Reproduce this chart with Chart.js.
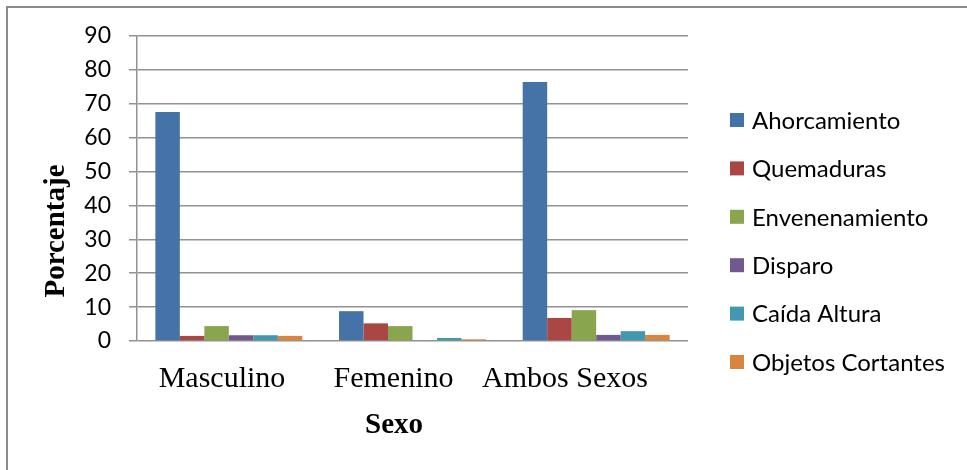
<!DOCTYPE html>
<html>
<head>
<meta charset="utf-8">
<script src="https://cdn.jsdelivr.net/npm/chart.js@4"></script>
<style>
    html, body { margin: 0; padding: 0; background: #fff; }
    #wrap { position: relative; width: 967px; height: 470px; overflow: hidden; }
    #frame { position: absolute; left: 6px; top: 6px; width: 1000px; height: 500px; border: 1px solid #8a8a8a; border-width: 2px 0 0 2px; }
    canvas { position: absolute; left: 0; top: 0; }
</style>
</head>
<body>
<div id="wrap">
    <div id="frame"></div>
    <canvas id="causasChart" width="967" height="470"></canvas>
</div>
<script>
const categorias = ['Masculino', 'Femenino', 'Ambos Sexos'];

const ahorcamiento = [67.6, 8.8, 76.4];
const quemaduras = [1.5, 5.2, 6.8];
const envenenamiento = [4.4, 4.4, 9.1];
const disparo = [1.7, 0, 1.8];
const caidaAltura = [1.7, 0.9, 2.9];
const objetosCortantes = [1.5, 0.5, 1.8];

const yTicks = [0, 10, 20, 30, 40, 50, 60, 70, 80, 90];

const ctx = document.getElementById('causasChart').getContext('2d');

const serif = 'Liberation Serif';
const gridColor = '#929292';

// legend on the right, one entry per dataset
const sideLegend = {
    id: 'sideLegend',
    afterDraw(chart) {
        const c = chart.ctx;
        c.save();
        c.font = '24px Lato';
        c.textBaseline = 'middle';
        chart.data.datasets.forEach((ds, i) => {
            const y = 120 + i * 48.4;
            c.fillStyle = ds.backgroundColor;
            c.fillRect(730, y - 7, 14, 14);
            c.fillStyle = '#000';
            c.fillText(ds.label, 752, y + 1);
        });
        c.restore();
    }
};

// axis titles, placed off-centre like the original sheet
const axisTitles = {
    id: 'axisTitles',
    afterDraw(chart) {
        const c = chart.ctx;
        c.save();
        c.font = 'bold 29px "' + serif + '"';
        c.fillStyle = '#000';
        c.textAlign = 'center';
        c.textBaseline = 'middle';
        c.fillText('Sexo', 394, 426);
        c.translate(57, 231);
        c.rotate(-Math.PI / 2);
        c.fillText('Porcentaje', 0, 0);
        c.restore();
    }
};

const causasChart = new Chart(ctx, {
    type: 'bar',
    data: {
        labels: categorias,
        datasets: [
            { label: 'Ahorcamiento', data: ahorcamiento, backgroundColor: '#4572A7' },
            { label: 'Quemaduras', data: quemaduras, backgroundColor: '#AA4643' },
            { label: 'Envenenamiento', data: envenenamiento, backgroundColor: '#89A54E' },
            { label: 'Disparo', data: disparo, backgroundColor: '#71588F' },
            { label: 'Caída Altura', data: caidaAltura, backgroundColor: '#4198AF' },
            { label: 'Objetos Cortantes', data: objetosCortantes, backgroundColor: '#DB843D' }
        ]
    },
    options: {
        responsive: false,
        animation: false,
        layout: { padding: { top: 36, left: 6, right: 279, bottom: 6 } },
        datasets: { bar: { barPercentage: 1, categoryPercentage: 0.8 } },
        plugins: {
            legend: { display: false },
            tooltip: { enabled: false }
        },
        scales: {
            // category axis places the bars; its labels come from xLabels below
            x: {
                display: false
            },
            // label axis: category names sit a little left of the bar groups
            xLabels: {
                type: 'linear',
                position: 'bottom',
                offset: false,
                min: -0.4956,
                max: 2.7172,
                afterBuildTicks(scale) { scale.ticks = categorias.map((_, i) => ({ value: i })); },
                grid: { display: false, drawTicks: false },
                border: { display: false },
                ticks: {
                    color: '#000',
                    padding: 20,
                    maxRotation: 0,
                    autoSkip: false,
                    font: { family: serif, size: 30 },
                    callback: v => categorias[v]
                },
                afterFit(scale) { scale.height = 470 - 6 - 341; }
            },
            y: {
                min: 0,
                max: 90,
                afterBuildTicks(scale) { scale.ticks = yTicks.map(v => ({ value: v })); },
                grid: { color: gridColor, lineWidth: 1.5, tickLength: 8 },
                border: { display: true, color: gridColor, width: 1.5 },
                ticks: { color: '#000', padding: 18, font: { family: 'Lato', size: 23 } },
                afterFit(scale) { scale.width = 137 - 6; }
            }
        }
    },
    plugins: [sideLegend, axisTitles]
});
</script>
</body>
</html>
